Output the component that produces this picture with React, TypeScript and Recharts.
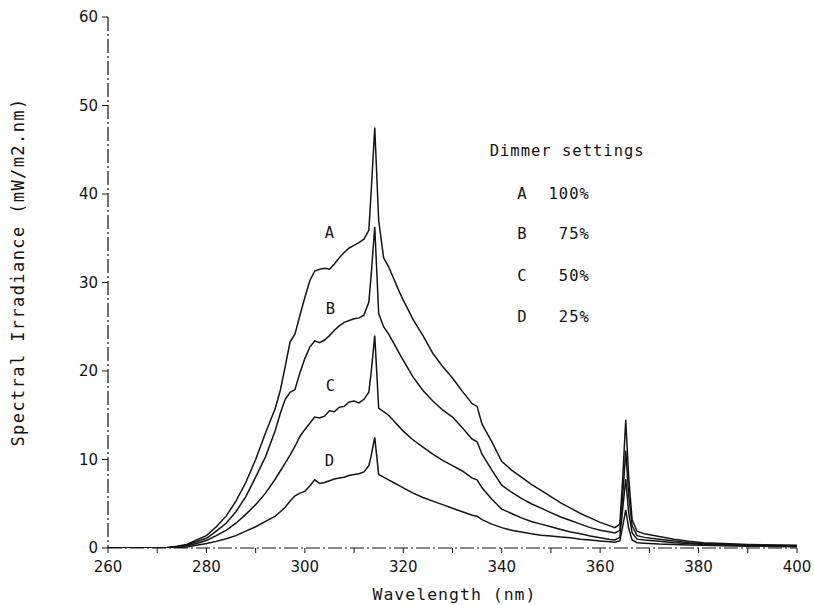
import React from "react";
import {
  LineChart,
  Line,
  XAxis,
  YAxis,
  ReferenceDot,
} from "recharts";

// wavelength grid (nm), denser around the 313 and 365 nm mercury lines
const wavelengths = [
  260, 265, 270, 272, 274, 276, 278, 280, 282, 284,
  286, 288, 290, 292, 294, 295, 296, 297, 298, 299,
  300, 301, 302, 303, 304, 305, 306, 307, 308, 309,
  310, 311, 312, 313, 313.5, 314.2, 315, 316, 317, 318,
  319, 320, 322, 324, 326, 328, 330, 332, 334, 335,
  336, 338, 340, 342, 344, 346, 348, 350, 352, 354,
  356, 358, 360, 362, 363, 364, 364.6, 365.2, 365.8, 366.5,
  367.5, 369, 372, 375, 378, 381, 385, 390, 395, 400,
];

// spectral irradiance, mW/m2.nm
const seriesA = [
  0, 0, 0, 0.05, 0.2, 0.4, 0.9, 1.4, 2.4, 3.6,
  5.3, 7.4, 10.0, 13.0, 15.8, 17.8, 20.5, 23.3, 24.2, 26.3,
  28.3, 30.2, 31.3, 31.5, 31.6, 31.5, 32.1, 32.8, 33.4, 33.9,
  34.2, 34.5, 34.9, 35.9, 40.5, 47.5, 37.0, 32.8, 31.8, 30.5,
  29.2, 28.0, 25.8, 24.0, 22.0, 20.5, 19.2, 17.7, 16.3, 16.0,
  14.0, 12.0, 9.8, 8.8, 8.0, 7.2, 6.5, 5.8, 5.1, 4.5,
  3.9, 3.4, 2.9, 2.5, 2.3, 2.7, 8.0, 14.5, 8.0, 3.2,
  1.9, 1.6, 1.3, 1.0, 0.75, 0.6, 0.5, 0.4, 0.35, 0.3,
];
const seriesB = [
  0, 0, 0, 0.03, 0.15, 0.35, 0.7, 1.1, 1.9, 2.8,
  4.1, 5.8, 8.0, 10.3, 13.3, 15.2, 16.8, 17.6, 17.9, 19.8,
  21.4, 22.7, 23.4, 23.2, 23.5, 24.0, 24.6, 25.1, 25.5, 25.7,
  25.9, 26.0, 26.3, 27.8, 31.0, 36.3, 26.5, 25.0, 24.2, 23.2,
  22.2, 21.2, 19.3, 17.8, 16.6, 15.6, 14.8, 13.6, 12.3, 12.0,
  10.6, 8.8, 7.1, 6.3, 5.6, 5.0, 4.5, 4.0, 3.5, 3.1,
  2.7, 2.3, 2.0, 1.8, 1.7, 2.0, 6.0, 11.0, 6.0, 2.5,
  1.4, 1.2, 1.0, 0.8, 0.6, 0.5, 0.42, 0.35, 0.3, 0.25,
];
const seriesC = [
  0, 0, 0, 0.02, 0.1, 0.25, 0.5, 0.85, 1.4, 2.0,
  2.8, 3.8, 4.9, 6.2, 7.8, 8.7, 9.6, 10.5, 11.5, 12.6,
  13.4, 14.1, 14.8, 14.7, 14.9, 15.5, 15.4, 15.9, 16.0, 16.5,
  16.6, 16.4, 16.8, 17.6, 20.0, 24.0, 15.8, 15.4, 15.0, 14.4,
  13.8, 13.2, 12.2, 11.4, 10.6, 9.9, 9.3, 8.7, 7.9, 7.7,
  6.8, 5.5, 4.4, 3.9, 3.4, 3.0, 2.7, 2.4, 2.1, 1.8,
  1.6, 1.35, 1.15, 0.95, 0.9, 1.2, 4.5, 7.8, 4.0, 1.7,
  1.0, 0.9, 0.75, 0.6, 0.5, 0.4, 0.35, 0.3, 0.25, 0.2,
];
const seriesD = [
  0, 0, 0, 0.01, 0.05, 0.12, 0.3, 0.5, 0.75, 1.05,
  1.4, 1.9, 2.4, 3.0, 3.6, 4.1, 4.6, 5.3, 5.9, 6.2,
  6.4, 7.0, 7.7, 7.3, 7.4, 7.6, 7.8, 7.9, 8.0, 8.2,
  8.3, 8.4, 8.6, 9.3, 10.5, 12.5, 8.3, 8.0, 7.7, 7.4,
  7.1, 6.8, 6.2, 5.7, 5.3, 4.9, 4.5, 4.1, 3.7, 3.6,
  3.2, 2.7, 2.3, 2.0, 1.8, 1.6, 1.45, 1.35, 1.25, 1.15,
  1.0, 0.9, 0.8, 0.7, 0.65, 0.8, 2.5, 4.3, 2.2, 0.9,
  0.6, 0.55, 0.45, 0.4, 0.35, 0.3, 0.25, 0.2, 0.18, 0.15,
];

const xTicks = [260, 270, 280, 290, 300, 310, 320, 330, 340, 350, 360, 370, 380, 390, 400];
const yTicks = [0, 10, 20, 30, 40, 50, 60];

const settingLetters = ["A", "B", "C", "D"];
const settingPercents = ["100%", "75%", "50%", "25%"];

// where the letters sit next to each curve (data coords)
const curveLabelWl = [305.1, 305.3, 305.3, 305.1];
const curveLabelVal = [35.6, 27.1, 18.4, 9.9];

// legend block (data coords)
const legendRowVal = [40.1, 35.5, 30.8, 26.2];

const data = wavelengths.map((wl, i) => ({
  wl,
  A: seriesA[i],
  B: seriesB[i],
  C: seriesC[i],
  D: seriesD[i],
}));

const INK = "#141414";
const MONO = "'DejaVu Sans Mono', 'Liberation Mono', monospace";
const SANS = "'DejaVu Sans', 'Liberation Sans', sans-serif";
const axisStroke = { stroke: INK, strokeWidth: 1.2, strokeDasharray: "14 3 2 3" };
const textStyle = { fill: INK, fontFamily: MONO, fontSize: 15.5, letterSpacing: 1 };

const YTitle = () => {
  const cx = 18;
  const cy = 272;
  return (
    <text
      x={cx}
      y={cy}
      transform={`rotate(-90 ${cx} ${cy})`}
      textAnchor="middle"
      dominantBaseline="central"
      fill={INK}
      fontFamily={MONO}
      fontSize={17}
      letterSpacing={1.4}
    >
      Spectral Irradiance (mW/m2.nm)
    </text>
  );
};

const XTitle = (props: any) => {
  const vb = props.viewBox;
  return (
    <text
      x={vb.x + vb.width / 2 + 2}
      y={600}
      textAnchor="middle"
      fill={INK}
      fontFamily={MONO}
      fontSize={16.5}
      letterSpacing={1}
    >
      Wavelength (nm)
    </text>
  );
};

export default function App() {
  return (
    <div style={{ position: "absolute", left: 0, top: 0, width: 814, height: 605, background: "#fff" }}>
      <LineChart
        width={814}
        height={605}
        data={data}
        margin={{ top: 17, right: 17, bottom: 27, left: 48 }}
      >
        <XAxis
          dataKey="wl"
          type="number"
          domain={[260, 400]}
          ticks={xTicks}
          interval={0}
          height={30}
          axisLine={axisStroke}
          tickLine={{ stroke: INK }}
          tickSize={5}
          tickMargin={8}
          tick={{ fill: INK, fontSize: 15, fontFamily: SANS }}
          tickFormatter={(v) => (v % 20 === 0 ? String(v) : "")}
          label={XTitle}
          allowDataOverflow
        />
        <XAxis
          xAxisId="top"
          orientation="top"
          dataKey="wl"
          type="number"
          domain={[260, 400]}
          ticks={xTicks}
          interval={0}
          height={0}
          axisLine={axisStroke}
          tickLine={{ stroke: INK }}
          tickSize={5}
          tick={false}
          allowDataOverflow
        />
        <YAxis
          type="number"
          domain={[0, 60]}
          ticks={yTicks}
          interval={0}
          width={60}
          axisLine={axisStroke}
          tickLine={{ stroke: INK }}
          tickSize={6}
          tickMargin={4}
          tick={{ fill: INK, fontSize: 15, fontFamily: SANS }}
          label={YTitle}
          allowDataOverflow
        />
        <YAxis
          yAxisId="right"
          orientation="right"
          type="number"
          domain={[0, 60]}
          ticks={yTicks}
          interval={0}
          width={0}
          axisLine={axisStroke}
          tickLine={{ stroke: INK }}
          tickSize={6}
          tick={false}
          allowDataOverflow
        />

        {["A", "B", "C", "D"].map((key) => (
          <Line
            key={key}
            type="linear"
            dataKey={key}
            stroke={INK}
            strokeWidth={1.5}
            dot={false}
            isAnimationActive={false}
          />
        ))}

        {settingLetters.map((s, i) => (
          <ReferenceDot
            key={"curve-" + s}
            x={curveLabelWl[i]}
            y={curveLabelVal[i]}
            r={0}
            fill="none"
            stroke="none"
            label={{ value: s, position: "center", ...textStyle }}
          />
        ))}

        <ReferenceDot
          x={353.3}
          y={44.9}
          r={0}
          fill="none"
          stroke="none"
          label={{ value: "Dimmer settings", position: "center", ...textStyle }}
        />
        {settingLetters.map((s, i) => (
          <ReferenceDot
            key={"leg-" + s}
            x={344.2}
            y={legendRowVal[i]}
            r={0}
            fill="none"
            stroke="none"
            label={{ value: s, position: "center", ...textStyle }}
          />
        ))}
        {settingPercents.map((p, i) => (
          <ReferenceDot
            key={"pct-" + p}
            x={357.9}
            y={legendRowVal[i]}
            r={0}
            fill="none"
            stroke="none"
            label={{ value: p, position: "left", offset: 0, ...textStyle }}
          />
        ))}
      </LineChart>
    </div>
  );
}
